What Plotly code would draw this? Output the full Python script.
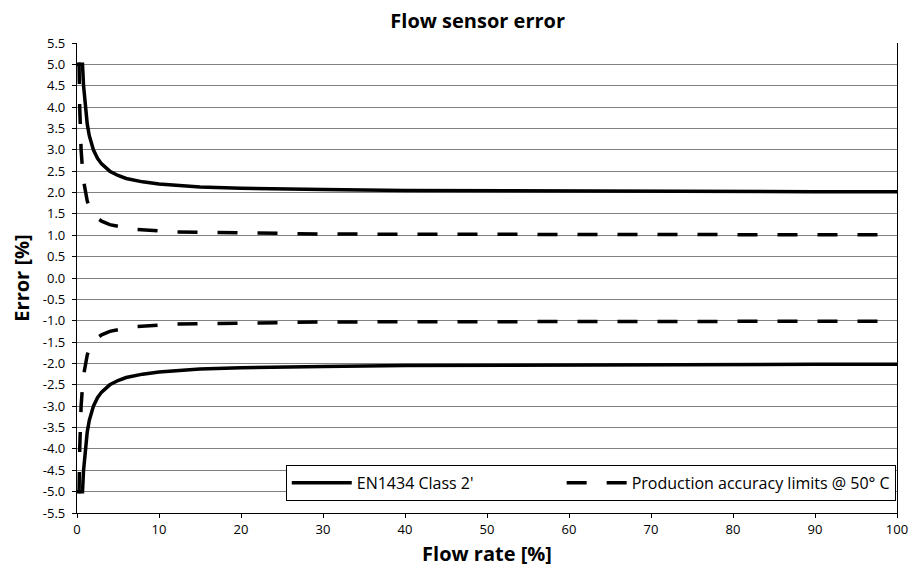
import plotly.graph_objects as go

# Flow rate sample points [%]
flow_class2 = [0, 0.25, 0.5, 0.67, 0.8, 1, 1.25, 1.5, 2, 2.5, 3, 4, 5, 6, 7, 8, 10, 12, 15,
               20, 25, 30, 40, 50, 60, 70, 80, 90, 100]
# EN1434 Class 2' limit (upper, +)
err_class2 = [5, 5, 5, 5, 4.5, 4.0, 3.6, 3.33, 3.0, 2.8, 2.67, 2.5, 2.4, 2.33, 2.29, 2.25,
              2.2, 2.17, 2.13, 2.1, 2.08, 2.07, 2.05, 2.04, 2.03, 2.03, 2.025, 2.02, 2.02]

flow_prod = [0.2, 0.25, 0.33, 0.5, 0.75, 1, 1.25, 1.5, 2, 2.5, 3, 4, 5, 6, 7, 8, 10, 12, 15,
             20, 25, 30, 40, 50, 60, 70, 80, 90, 100]
# Production accuracy limits @ 50 C (upper, +)
err_prod = [5, 5, 4.0, 3.0, 2.33, 2.0, 1.8, 1.67, 1.5, 1.4, 1.33, 1.25, 1.2, 1.17, 1.14, 1.125,
            1.1, 1.08, 1.07, 1.05, 1.04, 1.03, 1.025, 1.02, 1.017, 1.014, 1.0125, 1.011, 1.01]

y_ticks = [round(-5.5 + 0.5 * i, 1) for i in range(23)]
y_labels = [f"{v:.1f}" for v in y_ticks]

def both(xs, ys):
    return xs + [None] + xs, ys + [None] + [-v for v in ys]

pad = "\u00a0" * 20

fig = go.Figure()
x1, y1 = both(flow_class2, err_class2)
fig.add_trace(go.Scatter(x=x1, y=y1, mode="lines", name="EN1434 Class 2'" + pad,
                         line=dict(color="black", width=3.5)))
x2, y2 = both(flow_prod, err_prod)
fig.add_trace(go.Scatter(x=x2, y=y2, mode="lines", name="Production accuracy limits @ 50° C",
                         line=dict(color="black", width=3.5, dash="20px,20px")))

font = "Open Sans"
fig.update_layout(
    width=912, height=569,
    margin=dict(l=69, r=16, t=35, b=64),
    paper_bgcolor="white", plot_bgcolor="white",
    font=dict(family=font, size=13, color="black"),
    title=dict(text="<b>Flow sensor error</b>", x=0.515, xanchor="center", y=0.978,
               yanchor="middle", font=dict(size=20, family=font)),
    showlegend=True,
    legend=dict(orientation="h", x=0.9985, xanchor="right", y=0.026, yanchor="bottom",
                bgcolor="white", bordercolor="black", borderwidth=1,
                font=dict(size=16, family=font), itemwidth=60),
    xaxis=dict(range=[0, 100], tickvals=list(range(0, 101, 10)), showgrid=False,
               showline=True, linecolor="black", linewidth=1.2, ticks="outside",
               ticklen=4, tickcolor="black", zeroline=False,
               title=dict(text="<b>Flow rate [%]</b>", font=dict(size=20, family=font),
                          standoff=10)),
    yaxis=dict(range=[-5.5, 5.5], tickvals=y_ticks, ticktext=y_labels, showgrid=True,
               gridcolor="#808080", gridwidth=1, showline=True, linecolor="black",
               linewidth=1.2, mirror=True, ticks="outside", ticklen=4, tickcolor="black",
               zeroline=False, ticklabelstandoff=4,
               title=dict(text="<b>Error [%]</b>", font=dict(size=20, family=font),
                          standoff=8)),
)

fig.write_html("out.html")
